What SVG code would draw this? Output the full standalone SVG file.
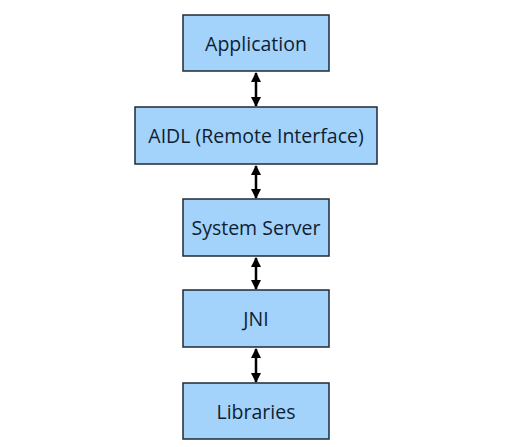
<svg xmlns="http://www.w3.org/2000/svg" width="511" height="447" viewBox="0 0 511 447">
<style>
.box{fill:#a3d3fb;stroke:#1f2a36;stroke-width:1.5}
.lbl{font-family:"Open Sans","Noto Sans",sans-serif;font-size:19.5px;fill:#0f1e33;text-anchor:middle;dominant-baseline:central}
.conn{stroke:#000;stroke-width:2.5;fill:none;marker-start:url(#ah);marker-end:url(#ah)}
</style>
<defs>
<marker id="ah" viewBox="0 0 10 10" refX="9" refY="5" markerWidth="4.2" markerHeight="4.2" orient="auto-start-reverse" markerUnits="strokeWidth">
<path d="M0,0 L10,5 L0,10 z" fill="#000"/>
</marker>
</defs>
<rect width="511" height="447" fill="#fff"/>
<g id="connectors">
<line class="conn" x1="256" y1="73" x2="256" y2="106"/>
<line class="conn" x1="256" y1="166" x2="256" y2="198"/>
<line class="conn" x1="256" y1="258" x2="256" y2="289"/>
<line class="conn" x1="256" y1="349" x2="256" y2="382"/>
</g>
<g id="application"><rect class="box" x="183" y="15" width="146" height="56"/><text class="lbl" x="256" y="43">Application</text></g>
<g id="aidl"><rect class="box" x="135" y="107" width="242" height="57"/><text class="lbl" x="256" y="135.5">AIDL (Remote Interface)</text></g>
<g id="system-server"><rect class="box" x="183" y="199" width="146" height="57"/><text class="lbl" x="256" y="227.5">System Server</text></g>
<g id="jni"><rect class="box" x="183" y="290" width="146" height="57"/><text class="lbl" x="256" y="318.5">JNI</text></g>
<g id="libraries"><rect class="box" x="183" y="383" width="146" height="56"/><text class="lbl" x="256" y="411">Libraries</text></g>
</svg>
